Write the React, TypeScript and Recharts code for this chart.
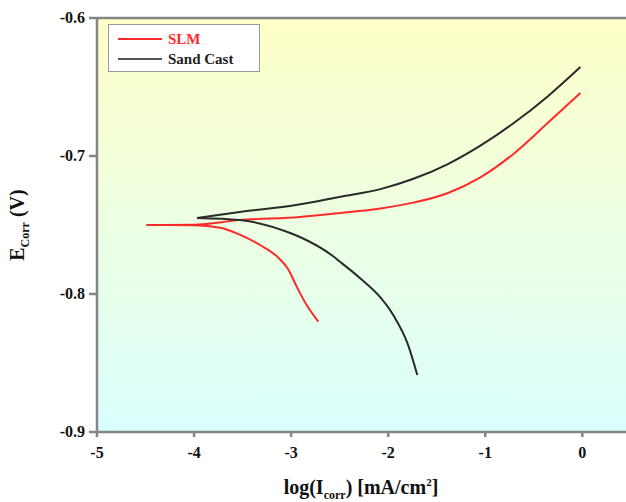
import React from 'react';
import {
  LineChart, Line, XAxis, YAxis, ReferenceLine, ReferenceArea,
} from 'recharts';

// SLM curve: cathodic branch (from corrosion tip outward) and anodic branch
const slmCathLogI = [-4.49, -4.0, -3.73, -3.53, -3.32, -3.15, -3.03, -2.94, -2.84, -2.72];
const slmCathE = [-0.750, -0.7502, -0.752, -0.757, -0.7645, -0.7725, -0.782, -0.795, -0.808, -0.820];
const slmAnLogI = [-4.49, -4.0, -3.53, -2.91, -2.49, -2.08, -1.74, -1.39, -1.05, -0.71, -0.36, -0.02];
const slmAnE = [-0.750, -0.7498, -0.7464, -0.7442, -0.7413, -0.7380, -0.7338, -0.7270, -0.7155, -0.6985, -0.6763, -0.6543];

// Sand cast curve
const castCathLogI = [-3.97, -3.53, -3.01, -2.91, -2.57, -2.49, -2.29, -2.08, -1.95, -1.80, -1.70];
const castCathE = [-0.7449, -0.7464, -0.7558, -0.7587, -0.7725, -0.777, -0.7885, -0.8025, -0.8150, -0.8360, -0.8587];
const castAnLogI = [-3.97, -3.53, -2.95, -2.49, -2.08, -1.74, -1.39, -1.05, -0.71, -0.36, -0.02];
const castAnE = [-0.7449, -0.7405, -0.7355, -0.7295, -0.7240, -0.7165, -0.7060, -0.6925, -0.6763, -0.657, -0.6355];

const xTicks = [-5, -4, -3, -2, -1, 0];
const yTicks = [-0.9, -0.8, -0.7, -0.6];

const toPts = (xs: number[], ys: number[]) => xs.map((x, i) => ({ x, y: ys[i] }));
const slmCath = toPts(slmCathLogI, slmCathE);
const slmAn = toPts(slmAnLogI, slmAnE);
const castCath = toPts(castCathLogI, castCathE);
const castAn = toPts(castAnLogI, castAnE);

const FONT = '"Liberation Serif", "Times New Roman", serif';
const AXIS = '#858585';
const RED = '#ff2a2a';
const BLACK = '#2a2a2a';

const LegendBox = () => (
  <div style={{
    position: 'absolute', left: 108, top: 24,
    width: 152, height: 48, border: '1px solid #999', background: '#fff',
    fontFamily: FONT, fontWeight: 'bold', fontSize: 15, boxSizing: 'border-box',
    padding: '4px 0 0 9px', lineHeight: '20px',
  }}>
    <div style={{ display: 'flex', alignItems: 'center', color: RED }}>
      <span style={{ display: 'inline-block', width: 44, height: 2, background: RED, marginRight: 6 }} />
      SLM
    </div>
    <div style={{ display: 'flex', alignItems: 'center', color: '#222' }}>
      <span style={{ display: 'inline-block', width: 44, height: 2, background: '#555', marginRight: 6 }} />
      Sand Cast
    </div>
  </div>
);

const YLabel = () => (
  <text x={24} y={225} transform="rotate(-90 24 225)" textAnchor="middle"
    fontFamily={FONT} fontWeight="bold" fontSize={20} fill="#111">
    E<tspan fontSize={12} dy={5}>Corr</tspan><tspan dy={-5}> (V)</tspan>
  </text>
);

const XLabel = () => (
  <text x={361} y={494} textAnchor="middle"
    fontFamily={FONT} fontWeight="bold" fontSize={20} fill="#111">
    log(I<tspan fontSize={12} dy={5}>corr</tspan><tspan dy={-5}>) [mA/cm</tspan><tspan fontSize={11} dy={-8}>2</tspan><tspan dy={8}>]</tspan>
  </text>
);

const XTick = (props: any) => {
  const { x, y, payload } = props;
  return (
    <text x={x} y={y + 19} textAnchor="middle" fontFamily={FONT} fontWeight="bold" fontSize={16} fill="#111">
      {String(payload.value)}
    </text>
  );
};

const YTick = (props: any) => {
  const { x, y, payload } = props;
  return (
    <text x={x - 2} y={y + 5} textAnchor="end" fontFamily={FONT} fontWeight="bold" fontSize={16} fill="#111">
      {payload.value.toFixed(1)}
    </text>
  );
};

export default function App() {
  const line = (data: { x: number; y: number }[], color: string) => (
    <Line data={data} dataKey="y" type="monotone" stroke={color} strokeWidth={2}
      dot={false} activeDot={false} isAnimationActive={false} legendType="none" />
  );
  return (
    <div style={{ position: 'absolute', left: 0, top: 0, width: 626, height: 502, background: '#fff' }}>
      <svg width={0} height={0} style={{ position: 'absolute' }}>
        <defs>
          <linearGradient id="bgGrad" x1="0" y1="0" x2="0" y2="1">
            <stop offset="0%" stopColor="#ffffc8" />
            <stop offset="100%" stopColor="#dafffd" />
          </linearGradient>
        </defs>
      </svg>
      <LineChart width={626} height={502} margin={{ top: 18, right: 0, left: 0, bottom: 0 }}>
        <ReferenceArea x1={-5} x2={0.45} y1={-0.9} y2={-0.6} fill="url(#bgGrad)" fillOpacity={1} stroke="none" ifOverflow="hidden" />
        <XAxis type="number" dataKey="x" domain={[-5, 0.45]} ticks={xTicks} allowDataOverflow
          stroke={AXIS} strokeWidth={2.5} tickSize={5} tick={<XTick />} height={70} />
        <YAxis type="number" dataKey="y" domain={[-0.9, -0.6]} ticks={yTicks} allowDataOverflow
          stroke={AXIS} strokeWidth={2.5} tickSize={8} tick={<YTick />} width={97} />
        <ReferenceLine y={-0.6} stroke={AXIS} strokeWidth={2.5} />
        {line(slmCath, RED)}
        {line(slmAn, RED)}
        {line(castCath, BLACK)}
        {line(castAn, BLACK)}
        <YLabel />
        <XLabel />
      </LineChart>
      <LegendBox />
    </div>
  );
}
